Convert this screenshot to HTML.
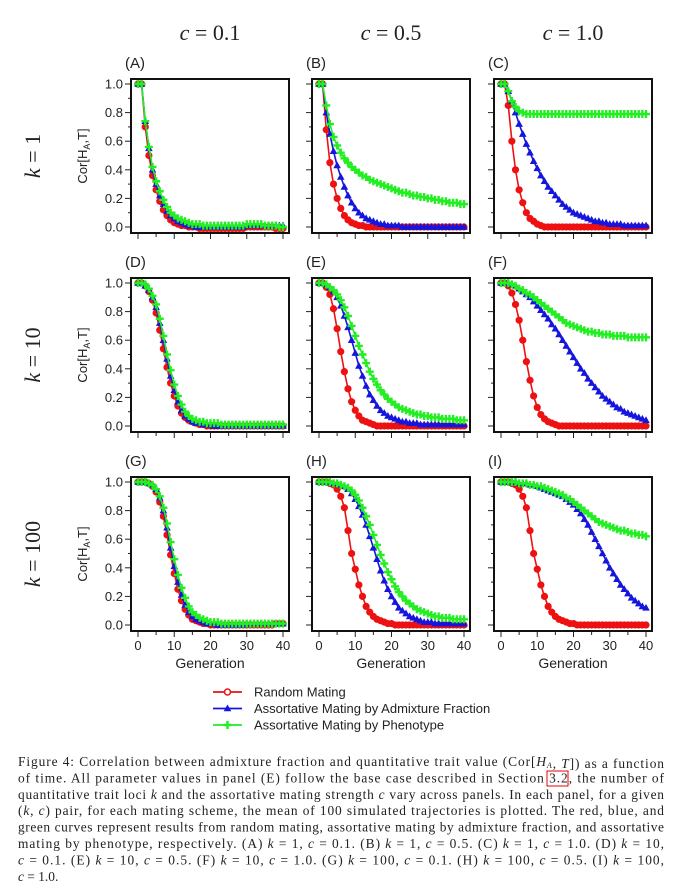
<!DOCTYPE html>
<html><head><meta charset="utf-8"><style>
html,body{margin:0;padding:0;background:#fff;width:681px;height:894px;overflow:hidden}
svg{display:block}
.t{font-family:"Liberation Sans",sans-serif;fill:#222}
.s{font-family:"Liberation Serif",serif;fill:#222}
</style></head><body>
<svg id="fig" width="681" height="894" viewBox="0 0 681 894" xmlns="http://www.w3.org/2000/svg"></svg>
<script>
const generations = [0,1,2,3,4,5,6,7,8,9,10,11,12,13,14,15,16,17,18,19,20,21,22,23,24,25,26,27,28,29,30,31,32,33,34,35,36,37,38,39,40];
const panelLabels = ["(A)","(B)","(C)","(D)","(E)","(F)","(G)","(H)","(I)"];
const colLabels = ["c = 0.1","c = 0.5","c = 1.0"];
const rowLabels = ["k = 1","k = 10","k = 100"];
const yTicks = [0,0.2,0.4,0.6,0.8,1.0];
const yTickLabels = ["0.0","0.2","0.4","0.6","0.8","1.0"];
const xTicks = [0,10,20,30,40];
const seriesNames = ["Random Mating","Assortative Mating by Admixture Fraction","Assortative Mating by Phenotype"];
const redA=[1,1,.70,.50,.36,.26,.18,.12,.08,.05,.03,.02,.01,.01,0,0,0,-.01,-.01,-.01,-.01,-.01,-.01,-.01,-.01,-.01,-.01,-.01,-.01,-.01,0,0,0,0,0,0,0,0,-.01,-.01,-.01];
const blueA=[1,1,.74,.55,.40,.30,.22,.16,.11,.08,.06,.04,.03,.02,.01,.01,0,0,0,0,0,0,0,0,0,0,0,0,0,0,.01,.01,.01,.01,.01,.01,.01,.01,.01,.01,.01];
const greenA=[1,1,.74,.56,.42,.32,.25,.19,.14,.10,.08,.06,.05,.04,.03,.02,.02,.02,.01,.01,.01,.01,.01,.01,.01,.01,.01,.01,.01,.01,.02,.02,.02,.02,.02,.01,.01,.01,.01,0,0];
const redB=[1,1,.68,.45,.30,.20,.13,.08,.05,.03,.02,.01,.01,0,0,0,0,0,0,0,0,0,0,0,0,0,0,0,0,0,0,0,0,0,0,0,0,0,0,0,0];
const blueB=[1,1,.80,.65,.53,.43,.35,.28,.22,.17,.13,.10,.08,.06,.05,.04,.03,.02,.02,.01,.01,.01,.01,0,0,0,0,0,0,0,0,0,0,0,0,0,0,0,0,0,0];
const greenB=[1,1,.85,.72,.63,.57,.52,.48,.45,.42,.40,.38,.36,.35,.33,.32,.31,.30,.29,.28,.27,.26,.25,.24,.24,.23,.22,.22,.21,.21,.20,.20,.19,.19,.18,.18,.17,.17,.17,.16,.16];
const redC=[1,1,.85,.60,.40,.26,.17,.10,.06,.04,.02,.01,0,0,0,0,0,0,0,0,0,0,0,0,0,0,0,0,0,0,0,0,0,0,0,0,0,0,0,0,0];
const blueC=[1,1,.95,.88,.80,.72,.65,.58,.52,.46,.41,.36,.32,.28,.25,.22,.19,.16,.14,.12,.10,.09,.08,.07,.06,.05,.04,.04,.03,.03,.02,.02,.02,.02,.01,.01,.01,.01,.01,.01,.01];
const greenC=[1,1,.95,.88,.84,.81,.80,.79,.79,.79,.79,.79,.79,.79,.79,.79,.79,.79,.79,.79,.79,.79,.79,.79,.79,.79,.79,.79,.79,.79,.79,.79,.79,.79,.79,.79,.79,.79,.79,.79,.79];
const redD=[1,1,.98,.94,.88,.79,.67,.54,.41,.30,.21,.14,.09,.06,.04,.03,.02,.01,.01,0,0,0,0,0,0,0,0,0,0,0,0,0,0,0,0,0,0,0,0,0,0];
const blueD=[1,1,.98,.95,.90,.83,.72,.60,.47,.35,.25,.17,.11,.07,.05,.03,.02,.02,.01,.01,.01,0,0,0,0,0,0,0,0,0,0,0,0,0,0,0,0,0,0,0,0];
const greenD=[1,1,.99,.96,.91,.85,.75,.63,.50,.39,.29,.21,.15,.10,.07,.05,.04,.03,.03,.02,.02,.02,.02,.01,.01,.01,.01,.01,.01,.01,.01,.01,.01,.01,.01,.01,.01,.01,.01,.01,.01];
const redE=[1,1,.97,.92,.82,.68,.52,.38,.26,.17,.11,.07,.04,.03,.02,.01,0,0,0,0,0,0,0,0,0,0,0,0,0,0,0,0,0,0,0,0,0,0,0,0,0];
const blueE=[1,1,.99,.97,.94,.90,.84,.77,.69,.60,.51,.42,.35,.28,.22,.18,.14,.11,.09,.07,.06,.05,.04,.03,.03,.02,.02,.02,.01,.01,.01,.01,.01,.01,.01,.01,.01,.01,.01,.01,.01];
const greenE=[1,1,.99,.97,.95,.92,.88,.83,.77,.70,.63,.56,.50,.44,.38,.33,.29,.25,.22,.19,.17,.15,.13,.12,.11,.10,.09,.08,.08,.07,.07,.06,.06,.06,.05,.05,.05,.05,.04,.04,.04];
const redF=[1,1,.98,.93,.85,.74,.60,.45,.32,.21,.13,.08,.05,.03,.02,.01,0,0,0,0,0,0,0,0,0,0,0,0,0,0,0,0,0,0,0,0,0,0,0,0,0];
const blueF=[1,1,1,.99,.98,.96,.94,.92,.90,.87,.84,.81,.78,.75,.71,.68,.64,.60,.56,.52,.48,.44,.40,.37,.33,.30,.27,.24,.21,.19,.17,.15,.13,.12,.10,.09,.08,.07,.06,.05,.04];
const greenF=[1,1,1,.99,.98,.96,.95,.93,.92,.90,.88,.86,.84,.82,.80,.78,.76,.74,.72,.71,.70,.69,.68,.67,.66,.66,.65,.65,.64,.64,.64,.63,.63,.63,.63,.62,.62,.62,.62,.62,.62];
const redG=[1,1,1,.99,.97,.93,.86,.76,.63,.49,.36,.25,.17,.11,.07,.04,.03,.02,.01,.01,0,0,0,0,0,0,0,0,0,0,0,0,0,0,0,0,0,0,.01,.01,.01];
const blueG=[1,1,1,.99,.98,.95,.89,.80,.68,.54,.41,.30,.21,.14,.09,.06,.04,.03,.02,.01,.01,.01,0,0,0,0,0,0,0,0,.01,.01,.01,.01,.01,.01,.01,.01,.01,.01,.01];
const greenG=[1,1,1,.99,.98,.95,.90,.82,.71,.58,.46,.35,.26,.19,.13,.09,.07,.05,.04,.03,.02,.02,.02,.01,.01,.01,.01,.01,.01,.01,.01,.01,.01,.01,.01,.01,.01,.01,.01,.01,.01];
const redH=[1,1,1,.99,.98,.95,.90,.82,.66,.50,.39,.28,.20,.13,.09,.06,.04,.03,.02,.01,.01,0,0,0,0,0,0,0,0,0,0,0,0,0,0,0,0,0,0,0,0];
const blueH=[1,1,1,1,.99,.99,.98,.97,.95,.92,.88,.83,.77,.70,.62,.54,.46,.38,.31,.25,.20,.16,.12,.10,.08,.06,.05,.04,.03,.02,.02,.02,.01,.01,.01,.01,.01,.01,.01,.01,.01];
const greenH=[1,1,1,1,.99,.99,.98,.97,.96,.94,.91,.87,.82,.76,.70,.63,.56,.49,.43,.37,.32,.27,.23,.20,.17,.15,.13,.11,.10,.09,.08,.07,.06,.06,.05,.05,.05,.04,.04,.04,.04];
const redI=[1,1,1,.99,.98,.95,.90,.82,.66,.50,.39,.28,.20,.13,.09,.06,.04,.03,.02,.01,.01,0,0,0,0,0,0,0,0,0,0,0,0,0,0,0,0,0,0,0,0];
const blueI=[1,1,1,1,1,.99,.99,.99,.98,.98,.97,.96,.95,.94,.93,.92,.91,.90,.88,.86,.84,.81,.78,.74,.70,.65,.60,.55,.50,.45,.40,.36,.32,.28,.25,.22,.19,.17,.15,.13,.12];
const greenI=[1,1,1,1,1,.99,.99,.99,.98,.98,.97,.97,.96,.95,.94,.93,.92,.91,.89,.88,.86,.84,.82,.80,.78,.76,.74,.72,.71,.70,.69,.68,.67,.66,.66,.65,.64,.64,.63,.63,.62];
const panelSeries=[[redA,blueA,greenA],[redB,blueB,greenB],[redC,blueC,greenC],[redD,blueD,greenD],[redE,blueE,greenE],[redF,blueF,greenF],[redG,blueG,greenG],[redH,blueH,greenH],[redI,blueI,greenI]];

const NS="http://www.w3.org/2000/svg";
const svg=document.getElementById('fig');
const COLORS=["#ee1111","#1515dd","#22ee22"];
const colLeft=[131,312,494], rowTop=[79,278,477], W=158, H=154;
function mk(tag,attrs,parent){const e=document.createElementNS(NS,tag);for(const k in attrs)e.setAttribute(k,attrs[k]);(parent||svg).appendChild(e);return e;}
function xScale(p,g){return colLeft[p%3]+7+g*(145/40);}
function yScale(p,v){return rowTop[Math.floor(p/3)]+5+(1-v)*143;}
function marker(type,x,y,c,g){
  let m;
  if(type===0){m=mk('circle',{cx:x,cy:y,r:3.2,fill:c,stroke:c,'stroke-width':0.8},g);}
  else if(type===1){m=mk('polygon',{points:`${x},${y-4} ${x+3.8},${y+2.8} ${x-3.8},${y+2.8}`,fill:c},g);}
  else{m=mk('path',{d:`M${x-4},${y}H${x+4}M${x},${y-4}V${y+4}`,stroke:c,'stroke-width':2.4,fill:'none'},g);}
  return m;
}
colLabels.forEach((t,i)=>{const parts=t.split(' = ');
  const e=mk('text',{x:colLeft[i]+79,y:40,'text-anchor':'middle','font-size':22,class:'s'});
  e.innerHTML=`<tspan font-style="italic">${parts[0]}</tspan> = ${parts[1]}`;
  
  
});
rowLabels.forEach((t,i)=>{const parts=t.split(' = ');const cy=rowTop[i]+77;
  const e=mk('text',{x:0,y:0,transform:`translate(40,${cy}) rotate(-90)`,'text-anchor':'middle','font-size':22,class:'s'});
  e.innerHTML=`<tspan font-style="italic">${parts[0]}</tspan> = ${parts[1]}`;
  
  
  const yl=mk('text',{x:0,y:0,transform:`translate(87,${cy}) rotate(-90)`,'text-anchor':'middle','font-size':13,class:'t'});
  yl.innerHTML='Cor[H<tspan font-size="9" dy="3">A</tspan><tspan dy="-3">,T]</tspan>';
  
  
});
for(let p=0;p<9;p++){
  const L=colLeft[p%3],T=rowTop[Math.floor(p/3)],row=Math.floor(p/3),col=p%3;
  const g=mk('g',{});
  
  
  const lbl=mk('text',{x:L-6,y:T-11,'font-size':15,class:'t'},g);lbl.textContent=panelLabels[p];
  
  
  mk('rect',{x:L,y:T,width:W,height:H,fill:'#fff'},g);
  for(let i=0;i<yTicks.length;i++){const y=yScale(p,yTicks[i]);
    mk('line',{x1:L-6,x2:L,y1:y,y2:y,stroke:'#222','stroke-width':1},g);
    if(i<yTicks.length-1){const ym=yScale(p,yTicks[i]+0.1);mk('line',{x1:L-3,x2:L,y1:ym,y2:ym,stroke:'#222','stroke-width':1},g);}
    if(col===0){const t=mk('text',{x:L-8,y:y+4.5,'text-anchor':'end','font-size':13,class:'t'},g);t.textContent=yTickLabels[i];
      
      }
  }
  for(let gv=0;gv<=40;gv+=5){const x=xScale(p,gv);mk('line',{x1:x,x2:x,y1:T+H,y2:T+H+(gv%10===0?6:4),stroke:'#222','stroke-width':1},g);}
  if(row===2){xTicks.forEach(v=>{const t=mk('text',{x:xScale(p,v),y:T+H+19,'text-anchor':'middle','font-size':13,class:'t'},g);t.textContent=v;
      
      });
    const xl=mk('text',{x:L+79,y:T+H+37,'text-anchor':'middle','font-size':14,class:'t'},g);xl.textContent='Generation';
    
    }
  panelSeries[p].forEach((vals,s)=>{
    const sg=mk('g',{},g);
    
    
    const pts=generations.map((gv,i)=>xScale(p,gv).toFixed(1)+','+yScale(p,vals[i]).toFixed(1)).join(' ');
    mk('polyline',{points:pts,fill:'none',stroke:COLORS[s],'stroke-width':1.6},sg);
    generations.forEach((gv,i)=>marker(s,xScale(p,gv),yScale(p,vals[i]),COLORS[s],sg));
  });
  mk('rect',{x:L,y:T,width:W,height:H,fill:'none',stroke:'#111','stroke-width':2},g);
}
const lg=mk('g',{});


seriesNames.forEach((n,s)=>{const y=692+s*16.5;
  const e=mk('g',{},lg);
  
  
  mk('line',{x1:213,x2:242,y1:y,y2:y,stroke:COLORS[s],'stroke-width':1.8},e);
  if(s===0)mk('circle',{cx:227.5,cy:y,r:3,fill:'#fff',stroke:COLORS[s],'stroke-width':1.5},e);else marker(s,227.5,y,COLORS[s],e);
  const t=mk('text',{x:254,y:y+4.5,'font-size':13,class:'t'},e);t.textContent=n;
});
const cap=["Figure 4: Correlation between admixture fraction and quantitative trait value (Cor[<i>H<sub>A</sub></i>, <i>T</i>]) as a function",
"of time. All parameter values in panel (E) follow the base case described in Section 3.2, the number of",
"quantitative trait loci <i>k</i> and the assortative mating strength <i>c</i> vary across panels. In each panel, for a given",
"(<i>k</i>, <i>c</i>) pair, for each mating scheme, the mean of 100 simulated trajectories is plotted. The red, blue, and",
"green curves represent results from random mating, assortative mating by admixture fraction, and assortative",
"mating by phenotype, respectively. (A) <i>k</i> = 1, <i>c</i> = 0.1. (B) <i>k</i> = 1, <i>c</i> = 0.5. (C) <i>k</i> = 1, <i>c</i> = 1.0. (D) <i>k</i> = 10,",
"<i>c</i> = 0.1. (E) <i>k</i> = 10, <i>c</i> = 0.5. (F) <i>k</i> = 10, <i>c</i> = 1.0. (G) <i>k</i> = 100, <i>c</i> = 0.1. (H) <i>k</i> = 100, <i>c</i> = 0.5. (I) <i>k</i> = 100,",
"<i>c</i> = 1.0."];
const cg=mk('g',{});


cap.forEach((line,i)=>{
  const html=line.replace(/<sub>(.*?)<\/sub>/g,'<tspan font-size="8" dy="2">$1</tspan><tspan dy="-2"></tspan>').replace(/<i>(.*?)<\/i>/g,'<tspan font-style="italic">$1</tspan>');
  const attrs={x:18,y:766+i*16.4,'font-size':13.4,class:'s'};
  if(i<7){attrs.textLength=646;attrs.lengthAdjust='spacing';}
  const t=mk('text',attrs,cg);t.innerHTML=html;
});
mk('rect',{x:547,y:771,width:21,height:15,fill:'none',stroke:'#e00','stroke-width':1},cg);
</script>
</body></html>
